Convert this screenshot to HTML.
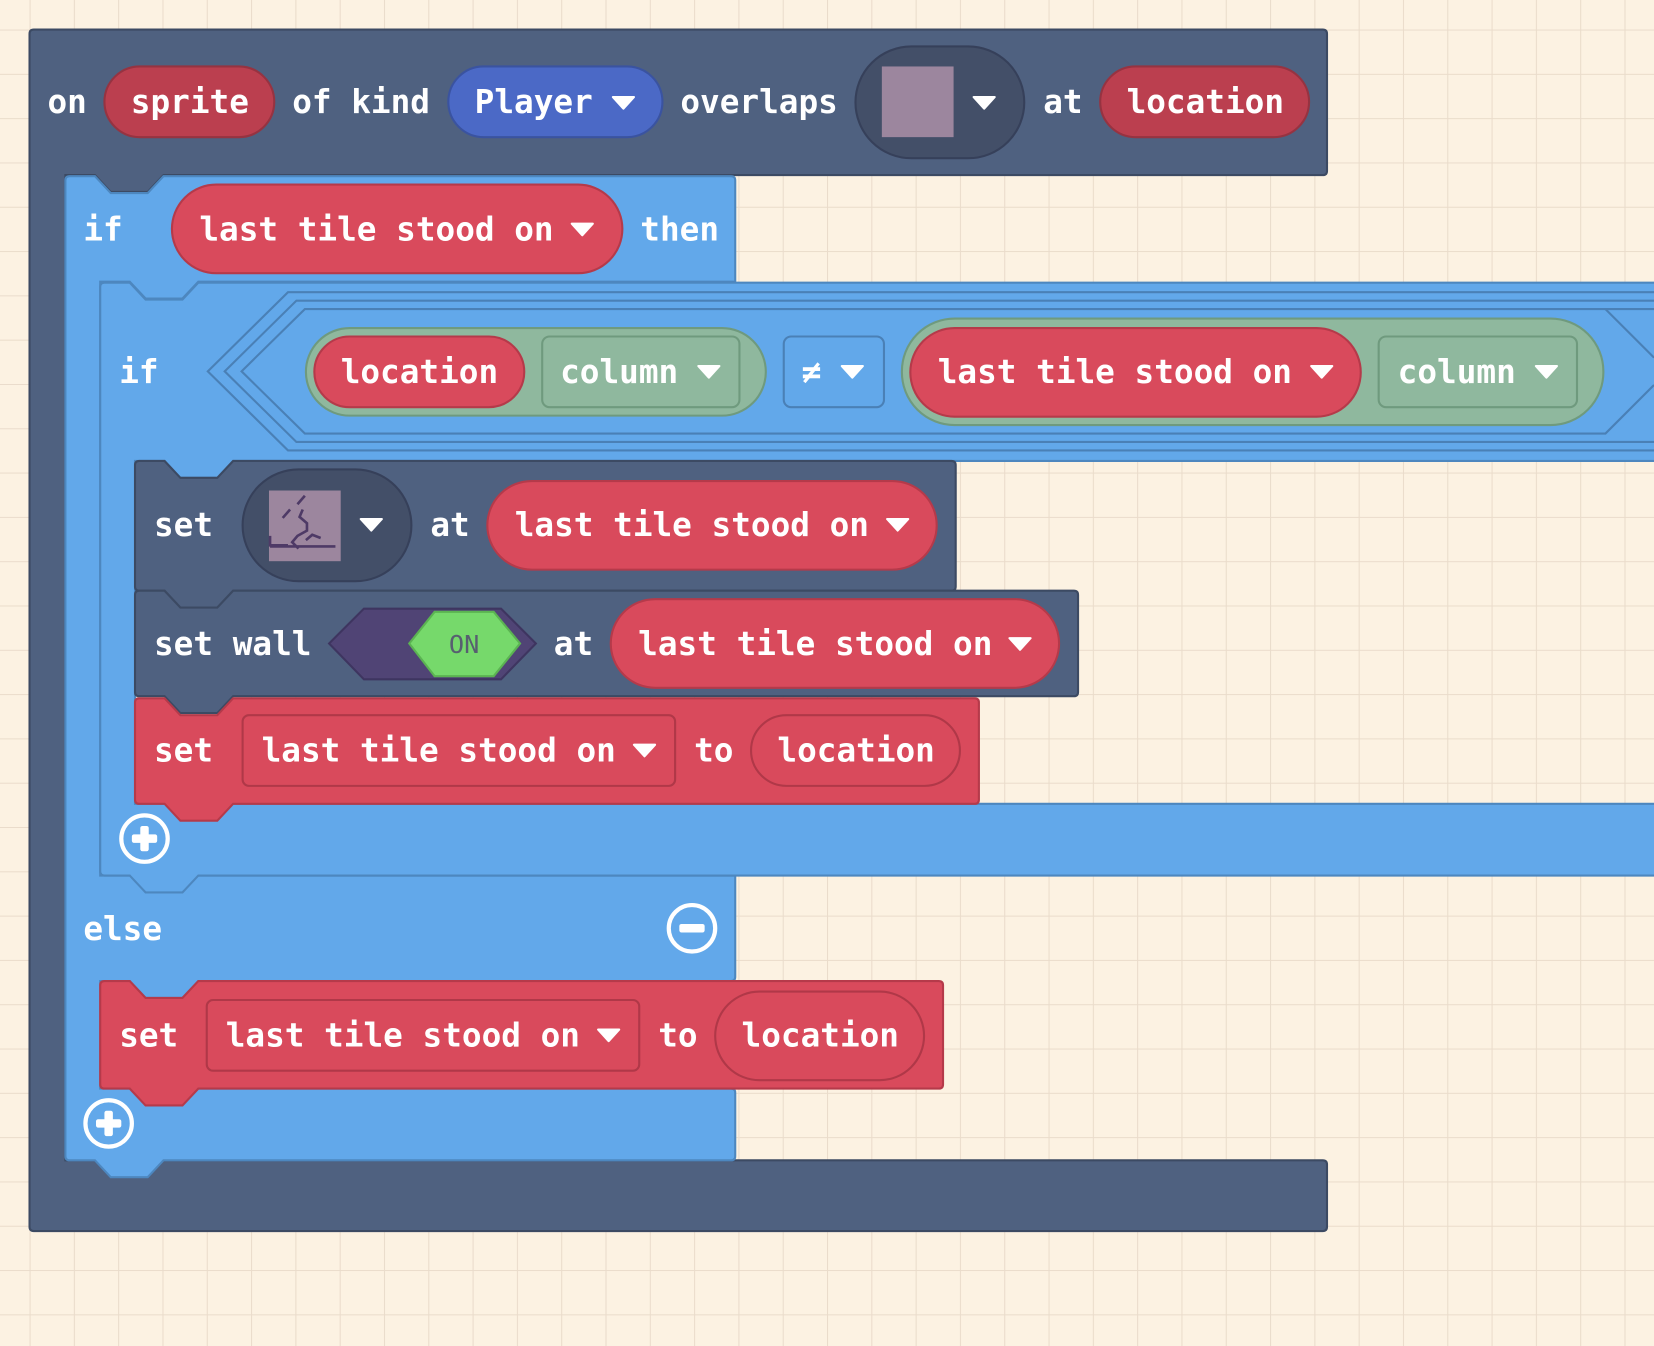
<!DOCTYPE html>
<html><head><meta charset="utf-8"><style>
html,body{margin:0;padding:0;background:#fcf2e2;}
svg{display:block}
.t{font-family:"DejaVu Sans Mono","Liberation Mono",monospace;font-weight:bold;font-size:31px;fill:#fff}
</style></head><body>
<svg width="1654" height="1346" viewBox="0 0 1568 1276" xmlns="http://www.w3.org/2000/svg">
<defs>
<pattern id="g" x="28" y="28" width="42" height="42" patternUnits="userSpaceOnUse">
<path d="M0,0 H42 M0,0 V42" stroke="#eadccb" stroke-width="2" fill="none"/>
</pattern>
<path id="ar" d="M-10,-5 H10 L0,6 Z" fill="#fff" stroke="#fff" stroke-width="2" stroke-linejoin="round"/>
</defs>
<rect width="1568" height="1276" fill="#fcf2e2"/>
<rect width="1568" height="1276" fill="url(#g)"/>

<!-- outer event block -->
<path d="M32,28 H1254 Q1258,28 1258,32 V162 Q1258,166 1254,166 H155 L140,182 H105 L90,166 H62 V1100 H1254 Q1258,1100 1258,1104 V1163 Q1258,1167 1254,1167 H32 Q28,1167 28,1163 V32 Q28,28 32,28 Z" fill="#4f6180" stroke="#3c4a63" stroke-width="2"/>
<text class="t" x="45" y="107">on</text>
<rect x="99" y="63" width="161" height="67" rx="33.5" fill="#bb3f4f" stroke="#963341" stroke-width="2"/>
<text class="t" x="124" y="107">sprite</text>
<text class="t" x="277" y="107">of kind</text>
<rect x="425" y="63" width="203" height="67" rx="33.5" fill="#4b69c6" stroke="#3a53a0" stroke-width="2"/>
<text class="t" x="450" y="107">Player</text>
<use href="#ar" x="591" y="97"/>
<text class="t" x="645" y="107">overlaps</text>
<rect x="811" y="44" width="160" height="106" rx="53" fill="#434f68" stroke="#36405a" stroke-width="2"/>
<rect x="836" y="63" width="68" height="67" fill="#9c869e"/>
<use href="#ar" x="933" y="97"/>
<text class="t" x="989" y="107">at</text>
<rect x="1043" y="63" width="198" height="67" rx="33.5" fill="#bb3f4f" stroke="#963341" stroke-width="2"/>
<text class="t" x="1068" y="107">location</text>

<!-- if/else block -->
<path d="M62,171 Q62,167 66,167 H90 L105,183 H140 L155,167 H693 Q697,167 697,171 V267 H188 L173,283 H138 L123,267 H95 V830 H697 V926 Q697,930 693,930 H188 L173,946 H138 L123,930 H95 V1032 H693 Q697,1032 697,1036 V1096 Q697,1100 693,1100 H155 L140,1116 H105 L90,1100 H66 Q62,1100 62,1096 Z" fill="#62a8ea" stroke="#4d87bf" stroke-width="2"/>
<text class="t" x="79" y="228">if</text>
<rect x="163" y="175" width="427" height="84" rx="42" fill="#d94a5c" stroke="#b53a4a" stroke-width="2"/>
<text class="t" x="189" y="228">last tile stood on</text>
<use href="#ar" x="552" y="217"/>
<text class="t" x="607" y="228">then</text>
<text class="t" x="79" y="891">else</text>
<circle cx="656" cy="880" r="22" fill="none" stroke="#fff" stroke-width="4"/>
<rect x="644" y="876" width="24" height="8" rx="2" fill="#fff"/>
<circle cx="103" cy="1065" r="22" fill="none" stroke="#fff" stroke-width="4"/>
<rect x="91" y="1061" width="24" height="8" rx="2" fill="#fff"/><rect x="99" y="1053" width="8" height="24" rx="2" fill="#fff"/>

<!-- inner if -->
<path d="M95,272 Q95,268 99,268 H123 L138,284 H173 L188,268 H1600 V437 H221 L206,453 H171 L156,437 H128 V762 H1600 V830 H188 L173,846 H138 L123,830 H99 Q95,830 95,826 Z" fill="#62a8ea" stroke="#4d87bf" stroke-width="2"/>
<text class="t" x="113" y="363">if</text>
<path d="M1600,277 H273 L197,352 L273,427 H1600" fill="none" stroke="#4a80b6" stroke-width="2"/>
<path d="M1600,285 H281 L213,352 L281,419 H1600" fill="none" stroke="#4a80b6" stroke-width="2"/>
<path d="M1568,293 H289 L229,352 L289,411 H1522 L1568,365" fill="none" stroke="#4a80b6" stroke-width="2"/>
<path d="M1522,293 L1568,339" fill="none" stroke="#4a80b6" stroke-width="2"/>
<rect x="290" y="311" width="436" height="83" rx="41.5" fill="#8fb89e" stroke="#6f9a7e" stroke-width="2"/>
<rect x="298" y="319" width="199" height="67" rx="33.5" fill="#d94a5c" stroke="#b53a4a" stroke-width="2"/>
<text class="t" x="323" y="363">location</text>
<rect x="514" y="319" width="187" height="67" rx="7" fill="#8fb89e" stroke="#6f9a7e" stroke-width="2"/>
<text class="t" x="531" y="363">column</text>
<use href="#ar" x="672" y="352"/>
<rect x="743" y="319" width="95" height="67" rx="7" fill="#62a8ea" stroke="#4a80b6" stroke-width="2"/>
<text class="t" x="760" y="363">≠</text>
<use href="#ar" x="808" y="352"/>
<rect x="855" y="302" width="665" height="101" rx="50" fill="#8fb89e" stroke="#6f9a7e" stroke-width="2"/>
<rect x="863" y="311" width="427" height="84" rx="42" fill="#d94a5c" stroke="#b53a4a" stroke-width="2"/>
<text class="t" x="889" y="363">last tile stood on</text>
<use href="#ar" x="1253" y="352"/>
<rect x="1307" y="319" width="188" height="67" rx="7" fill="#8fb89e" stroke="#6f9a7e" stroke-width="2"/>
<text class="t" x="1325" y="363">column</text>
<use href="#ar" x="1466" y="352"/>
<circle cx="137" cy="795" r="22" fill="none" stroke="#fff" stroke-width="4"/>
<rect x="125" y="791" width="24" height="8" rx="2" fill="#fff"/><rect x="133" y="783" width="8" height="24" rx="2" fill="#fff"/>

<!-- set tile -->
<path d="M132,437 H156 L171,453 H206 L221,437 H902 Q906,437 906,441 V556 Q906,560 902,560 H221 L206,576 H171 L156,560 H132 Q128,560 128,556 V441 Q128,437 132,437 Z" fill="#4f6180" stroke="#3c4a63" stroke-width="2"/>
<text class="t" x="146" y="508">set</text>
<rect x="230" y="445" width="160" height="106" rx="53" fill="#434f68" stroke="#36405a" stroke-width="2"/>
<rect x="255" y="465" width="68" height="67" fill="#9c869e"/>
<path d="M289,470 L282,478 M275,483 L268,491 M287,483 L284,490 L291,496 L291,503 L282,508 L277,514 L283,520 M256,508 V517 H273 M256,518 H318 M290,512 L296,507 L304,510" fill="none" stroke="#4e3a66" stroke-width="2.5"/>
<use href="#ar" x="352" y="497"/>
<text class="t" x="408" y="508">at</text>
<rect x="462" y="456" width="426" height="84" rx="42" fill="#d94a5c" stroke="#b53a4a" stroke-width="2"/>
<text class="t" x="488" y="508">last tile stood on</text>
<use href="#ar" x="851" y="497"/>

<!-- set wall -->
<path d="M132,560 H156 L171,576 H206 L221,560 H1018 Q1022,560 1022,564 V656 Q1022,660 1018,660 H221 L206,676 H171 L156,660 H132 Q128,660 128,656 V564 Q128,560 132,560 Z" fill="#4f6180" stroke="#3c4a63" stroke-width="2"/>
<text class="t" x="146" y="621">set wall</text>
<path d="M312,610 L345,577 H475 L508,610 L475,644 H345 Z" fill="#504475" stroke="#3e3560" stroke-width="2"/>
<path d="M388,610 L412,580 H468 L493,610 L468,641 H412 Z" fill="#76d96b" stroke="#5bb352" stroke-width="2"/>
<text x="440" y="619" text-anchor="middle" font-family="DejaVu Sans Mono, monospace" font-size="24" fill="#575f70">ON</text>
<text class="t" x="525" y="621">at</text>
<rect x="579" y="568" width="425" height="84" rx="42" fill="#d94a5c" stroke="#b53a4a" stroke-width="2"/>
<text class="t" x="605" y="621">last tile stood on</text>
<use href="#ar" x="967" y="610"/>

<!-- red set 1 -->
<path d="M132,662 H156 L171,678 H206 L221,662 H924 Q928,662 928,666 V758 Q928,762 924,762 H221 L206,778 H171 L156,762 H132 Q128,762 128,758 V666 Q128,662 132,662 Z" fill="#d94a5c" stroke="#b53a4a" stroke-width="2"/>
<text class="t" x="146" y="722">set</text>
<rect x="230" y="678" width="410" height="67" rx="6" fill="#d94a5c" stroke="#b03848" stroke-width="2"/>
<text class="t" x="248" y="722">last tile stood on</text>
<use href="#ar" x="611" y="711"/>
<text class="t" x="658" y="722">to</text>
<rect x="712" y="678" width="198" height="67" rx="33.5" fill="#d94a5c" stroke="#b03848" stroke-width="2"/>
<text class="t" x="737" y="722">location</text>

<!-- red set 2 -->
<path d="M99,930 H123 L138,946 H173 L188,930 H890 Q894,930 894,934 V1028 Q894,1032 890,1032 H188 L173,1048 H138 L123,1032 H99 Q95,1032 95,1028 V934 Q95,930 99,930 Z" fill="#d94a5c" stroke="#b53a4a" stroke-width="2"/>
<text class="t" x="113" y="992">set</text>
<rect x="196" y="948" width="410" height="67" rx="6" fill="#d94a5c" stroke="#b03848" stroke-width="2"/>
<text class="t" x="214" y="992">last tile stood on</text>
<use href="#ar" x="577" y="981"/>
<text class="t" x="624" y="992">to</text>
<rect x="678" y="940" width="198" height="84" rx="42" fill="#d94a5c" stroke="#b03848" stroke-width="2"/>
<text class="t" x="703" y="992">location</text>
</svg>
</body></html>
